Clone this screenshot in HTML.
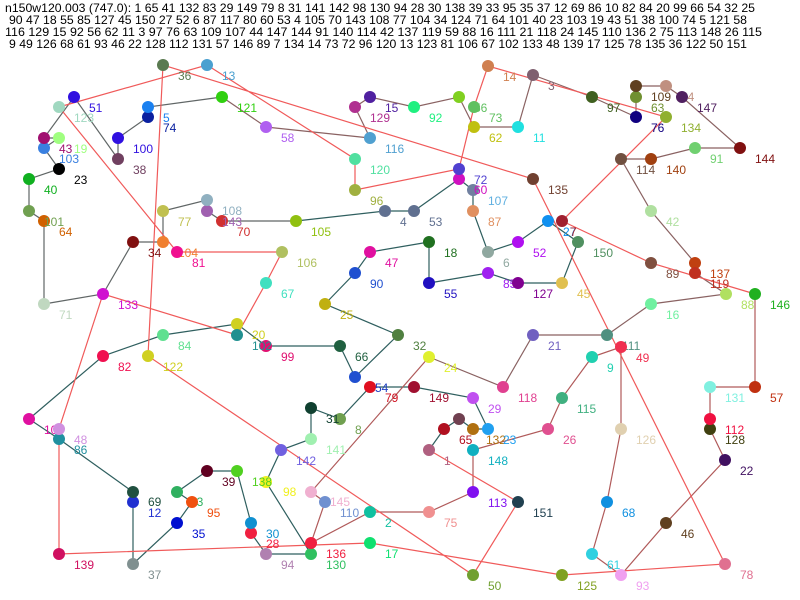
<!DOCTYPE html>
<html><head><meta charset="utf-8"><style>
html,body{margin:0;padding:0;background:#fff}
svg{display:block}
text{font-family:"Liberation Sans",sans-serif;font-size:12px}
</style></head><body>
<svg width="800" height="600" viewBox="0 0 800 600" xmlns="http://www.w3.org/2000/svg">
<rect width="800" height="600" fill="#fff"/>
<g fill="#000">
<text x="5" y="12" textLength="750" lengthAdjust="spacingAndGlyphs">n150w120.003 (747.0): 1 65 41 132 83 29 149 79 8 31 141 142 98 130 94 28 30 138 39 33 95 35 37 12 69 86 10 82 84 20 99 66 54 32 25</text>
<text x="9" y="24" textLength="738" lengthAdjust="spacingAndGlyphs">90 47 18 55 85 127 45 150 27 52 6 87 117 80 60 53 4 105 70 143 108 77 104 34 124 71 64 101 40 23 103 19 43 51 38 100 74 5 121 58</text>
<text x="5" y="36" textLength="757" lengthAdjust="spacingAndGlyphs">116 129 15 92 56 62 11 3 97 76 63 109 107 44 147 144 91 140 114 42 137 119 59 88 16 111 21 118 24 145 110 136 2 75 113 148 26 115</text>
<text x="9" y="48" textLength="738" lengthAdjust="spacingAndGlyphs">9 49 126 68 61 93 46 22 128 112 131 57 146 89 7 134 14 73 72 96 120 13 123 81 106 67 102 133 48 139 17 125 78 135 36 122 50 151</text>
</g>
<g fill="none" stroke-width="1.2">
<polyline stroke="#2f5f5f" points="429,450 444,429 459,419 473,429 488,429 473,398 414,387 370,387 340,419 311,408 311,439 281,450 266,482 311,554 266,554 251,533 251,523 237,471 207,471 177,492 192,502 177,523 133,564 133,502 133,492 59,439 29,419 103,356 163,335 237,324 266,346 340,346 355,377 398,335 325,304 355,273 370,252 429,242 429,283 488,273 518,283 562,283 578,242 548,221 518,242 488,252 473,211 473,190 473,190 459,179 414,211 385,211 296,221"/>
<polyline stroke="#606666" points="296,221 222,221 207,211 207,200 163,211 163,242 133,242 103,294 44,304 44,221 29,211 29,179 59,169 44,148 59,138 44,138 74,97 118,159 118,138 148,117 148,107 222,97"/>
<polyline stroke="#8a6262" points="222,97 266,127 370,138 355,107 370,97 414,107 459,97 474,127 518,127 533,75 592,97 636,117 636,97 636,86 636,86 666,86 682,97 740,148 695,148 651,159 621,159 651,211 695,263 695,273 726,294 726,294 651,304 607,335 533,335 503,387 429,357"/>
<polyline stroke="#b05a5a" points="429,357 311,492 325,502 311,543 370,512 429,512 473,492 473,450 548,429 562,398 592,357 621,347 621,429 607,502 592,554 621,575 666,523 725,460 710,429 710,419 710,387 755,387 755,294"/>
<polyline stroke="#f05a5a" points="755,294 651,263 562,221 666,117 488,66 474,107 459,169 355,190 355,159 207,65 59,107 177,252 282,252 266,283 237,335 103,294 59,429 59,554 370,543 562,575 725,564 533,179 163,65 148,356 473,575 518,502 429,450"/>
</g>
<g>
<circle cx="429" cy="450" r="6" fill="#b06080"/><text x="444" y="465" fill="#b06080">1</text>
<circle cx="444" cy="429" r="6" fill="#b01020"/><text x="459" y="444" fill="#b01020">65</text>
<circle cx="459" cy="419" r="6" fill="#704050"/>
<circle cx="473" cy="429" r="6" fill="#b07010"/><text x="486" y="444" fill="#b07010">132</text>
<circle cx="488" cy="429" r="6" fill="#20a0f0"/><text x="503" y="444" fill="#20a0f0">23</text>
<circle cx="473" cy="398" r="6" fill="#c050f0"/><text x="488" y="413" fill="#c050f0">29</text>
<circle cx="414" cy="387" r="6" fill="#a01030"/><text x="429" y="402" fill="#a01030">149</text>
<circle cx="370" cy="387" r="6" fill="#e01020"/><text x="385" y="402" fill="#d01020">79</text><text x="375" y="392" fill="#2040c0">54</text>
<circle cx="340" cy="419" r="6" fill="#70a050"/><text x="355" y="434" fill="#70a050">8</text>
<circle cx="311" cy="408" r="6" fill="#104030"/><text x="326" y="423" fill="#104030">31</text>
<circle cx="311" cy="439" r="6" fill="#a0f0b0"/><text x="326" y="454" fill="#a0f0b0">141</text>
<circle cx="281" cy="450" r="6" fill="#7060e0"/><text x="296" y="465" fill="#7060e0">142</text>
<circle cx="266" cy="482" r="6" fill="#f0f020"/><text x="283" y="496" fill="#f0f020">98</text>
<circle cx="311" cy="554" r="6" fill="#30c060"/><text x="326" y="569" fill="#30c060">130</text>
<circle cx="266" cy="554" r="6" fill="#b080b0"/><text x="281" y="569" fill="#b080b0">94</text>
<circle cx="251" cy="533" r="6" fill="#f02040"/><text x="266" y="548" fill="#f02040">28</text>
<circle cx="251" cy="523" r="6" fill="#1090d0"/><text x="266" y="538" fill="#1090d0">30</text>
<circle cx="237" cy="471" r="6" fill="#50d020"/><text x="252" y="486" fill="#50d020">138</text>
<circle cx="207" cy="471" r="6" fill="#600020"/><text x="222" y="486" fill="#600020">39</text>
<circle cx="177" cy="492" r="6" fill="#30b060"/><text x="190" y="506" fill="#30b060">33</text>
<circle cx="192" cy="502" r="6" fill="#f05010"/><text x="207" y="517" fill="#f05010">95</text>
<circle cx="177" cy="523" r="6" fill="#0010d0"/><text x="192" y="538" fill="#0010d0">35</text>
<circle cx="133" cy="564" r="6" fill="#809090"/><text x="148" y="579" fill="#809090">37</text>
<circle cx="133" cy="502" r="6" fill="#2030d0"/><text x="148" y="517" fill="#2030d0">12</text>
<circle cx="133" cy="492" r="6" fill="#205040"/><text x="148" y="506" fill="#205040">69</text>
<circle cx="59" cy="439" r="6" fill="#2090a0"/><text x="74" y="454" fill="#2090a0">86</text>
<circle cx="29" cy="419" r="6" fill="#e010a0"/><text x="44" y="434" fill="#e010a0">10</text>
<circle cx="103" cy="356" r="6" fill="#f01050"/><text x="118" y="371" fill="#f01050">82</text>
<circle cx="163" cy="335" r="6" fill="#60e090"/><text x="178" y="350" fill="#60e090">84</text>
<circle cx="237" cy="324" r="6" fill="#d0d020"/><text x="252" y="339" fill="#d0d020">20</text>
<circle cx="266" cy="346" r="6" fill="#e01070"/><text x="281" y="361" fill="#e01070">99</text>
<circle cx="340" cy="346" r="6" fill="#206040"/><text x="355" y="361" fill="#206040">66</text>
<circle cx="355" cy="377" r="6" fill="#2050d0"/>
<circle cx="398" cy="335" r="6" fill="#508040"/><text x="413" y="350" fill="#508040">32</text>
<circle cx="325" cy="304" r="6" fill="#c0b010"/><text x="340" y="319" fill="#c0b010">25</text>
<circle cx="355" cy="273" r="6" fill="#2050d0"/><text x="370" y="288" fill="#2050d0">90</text>
<circle cx="370" cy="252" r="6" fill="#e010a0"/><text x="385" y="267" fill="#e010a0">47</text>
<circle cx="429" cy="242" r="6" fill="#207020"/><text x="444" y="257" fill="#207020">18</text>
<circle cx="429" cy="283" r="6" fill="#2010c0"/><text x="444" y="298" fill="#2010c0">55</text>
<circle cx="488" cy="273" r="6" fill="#a020f0"/><text x="503" y="288" fill="#a020f0">85</text>
<circle cx="518" cy="283" r="6" fill="#800090"/><text x="533" y="298" fill="#800090">127</text>
<circle cx="562" cy="283" r="6" fill="#e0c050"/><text x="577" y="298" fill="#e0c050">45</text>
<circle cx="578" cy="242" r="6" fill="#509060"/><text x="593" y="257" fill="#509060">150</text>
<circle cx="548" cy="221" r="6" fill="#1090f0"/><text x="563" y="236" fill="#1090f0">27</text>
<circle cx="518" cy="242" r="6" fill="#b010f0"/><text x="533" y="257" fill="#b010f0">52</text>
<circle cx="488" cy="252" r="6" fill="#90a8a0"/><text x="503" y="267" fill="#90a8a0">6</text>
<circle cx="473" cy="211" r="6" fill="#e09060"/><text x="488" y="226" fill="#e09060">87</text>
<circle cx="473" cy="190" r="6" fill="#7080a0"/><text x="488" y="205" fill="#60b0e0">107</text>
<circle cx="459" cy="179" r="6" fill="#d010c0"/><text x="474" y="194" fill="#d010c0">60</text>
<circle cx="414" cy="211" r="6" fill="#607090"/><text x="429" y="226" fill="#607090">53</text>
<circle cx="385" cy="211" r="6" fill="#607090"/><text x="400" y="226" fill="#607090">4</text>
<circle cx="296" cy="221" r="6" fill="#90c010"/><text x="311" y="236" fill="#90c010">105</text>
<circle cx="222" cy="221" r="6" fill="#d03030"/><text x="237" y="236" fill="#d03030">70</text>
<circle cx="207" cy="211" r="6" fill="#a060b0"/><text x="222" y="226" fill="#a060b0">143</text>
<circle cx="207" cy="200" r="6" fill="#90b0c0"/><text x="222" y="215" fill="#90b0c0">108</text>
<circle cx="163" cy="211" r="6" fill="#c0c050"/><text x="178" y="226" fill="#c0c050">77</text>
<circle cx="163" cy="242" r="6" fill="#f08030"/><text x="178" y="257" fill="#f08030">104</text>
<circle cx="133" cy="242" r="6" fill="#801010"/><text x="148" y="257" fill="#801010">34</text>
<circle cx="103" cy="294" r="6" fill="#d010d0"/><text x="118" y="309" fill="#d010d0">133</text>
<circle cx="44" cy="304" r="6" fill="#c0d8c0"/><text x="59" y="319" fill="#c0d8c0">71</text>
<circle cx="44" cy="221" r="6" fill="#d06000"/><text x="59" y="236" fill="#d06000">64</text>
<circle cx="29" cy="211" r="6" fill="#70a050"/><text x="44" y="226" fill="#70a050">101</text>
<circle cx="29" cy="179" r="6" fill="#10b020"/><text x="44" y="194" fill="#10b020">40</text>
<circle cx="59" cy="169" r="6" fill="#000"/><text x="74" y="184" fill="#000">23</text>
<circle cx="44" cy="148" r="6" fill="#3a80e0"/><text x="59" y="163" fill="#3a80e0">103</text>
<circle cx="59" cy="138" r="6" fill="#a0ff80"/><text x="74" y="153" fill="#a0ff80">19</text>
<circle cx="44" cy="138" r="6" fill="#a01070"/><text x="59" y="153" fill="#a01070">43</text>
<circle cx="74" cy="97" r="6" fill="#3010e0"/><text x="89" y="112" fill="#3010e0">51</text>
<circle cx="118" cy="159" r="6" fill="#704060"/><text x="133" y="174" fill="#704060">38</text>
<circle cx="118" cy="138" r="6" fill="#3010e0"/><text x="133" y="153" fill="#3010e0">100</text>
<circle cx="148" cy="117" r="6" fill="#0a20a0"/><text x="163" y="132" fill="#0a20a0">74</text>
<circle cx="148" cy="107" r="6" fill="#1a80f0"/><text x="163" y="122" fill="#1a80f0">5</text>
<circle cx="222" cy="97" r="6" fill="#30d010"/><text x="237" y="112" fill="#30d010">121</text>
<circle cx="266" cy="127" r="6" fill="#b060f0"/><text x="281" y="142" fill="#b060f0">58</text>
<circle cx="370" cy="138" r="6" fill="#50a0d0"/><text x="385" y="153" fill="#50a0d0">116</text>
<circle cx="355" cy="107" r="6" fill="#b03090"/><text x="370" y="122" fill="#b03090">129</text>
<circle cx="370" cy="97" r="6" fill="#5020a0"/><text x="385" y="112" fill="#5020a0">15</text>
<circle cx="414" cy="107" r="6" fill="#20f080"/><text x="429" y="122" fill="#20f080">92</text>
<circle cx="459" cy="97" r="6" fill="#80d020"/>
<circle cx="474" cy="107" r="6" fill="#60c060"/><text x="474" y="112" fill="#60c060">56</text><text x="489" y="122" fill="#60c060">73</text>
<circle cx="474" cy="127" r="6" fill="#c0c010"/><text x="489" y="142" fill="#c0c010">62</text>
<circle cx="518" cy="127" r="6" fill="#20e0e0"/><text x="533" y="142" fill="#20e0e0">11</text>
<circle cx="533" cy="75" r="6" fill="#806070"/><text x="548" y="90" fill="#806070">3</text>
<circle cx="592" cy="97" r="6" fill="#406020"/><text x="607" y="112" fill="#406020">97</text>
<circle cx="636" cy="117" r="6" fill="#100080"/><text x="651" y="132" fill="#100080">76</text>
<circle cx="636" cy="97" r="6" fill="#709030"/><text x="651" y="112" fill="#709030">63</text>
<circle cx="636" cy="86" r="6" fill="#604020"/><text x="651" y="101" fill="#604020">109</text>
<circle cx="666" cy="86" r="6" fill="#c09080"/><text x="681" y="101" fill="#c09080">44</text>
<circle cx="682" cy="97" r="6" fill="#502060"/><text x="697" y="112" fill="#502060">147</text>
<circle cx="740" cy="148" r="6" fill="#801010"/><text x="755" y="163" fill="#801010">144</text>
<circle cx="695" cy="148" r="6" fill="#70d070"/><text x="710" y="163" fill="#70d070">91</text>
<circle cx="651" cy="159" r="6" fill="#a04010"/><text x="666" y="174" fill="#a04010">140</text>
<circle cx="621" cy="159" r="6" fill="#705040"/><text x="636" y="174" fill="#705040">114</text>
<circle cx="651" cy="211" r="6" fill="#b0e0a0"/><text x="666" y="226" fill="#b0e0a0">42</text>
<circle cx="695" cy="263" r="6" fill="#c04010"/><text x="710" y="278" fill="#c04010">137</text>
<circle cx="695" cy="273" r="6" fill="#c03020"/><text x="710" y="288" fill="#c03020">119</text>
<circle cx="726" cy="294" r="6" fill="#b0e060"/><text x="741" y="309" fill="#b0e060">88</text>
<circle cx="651" cy="304" r="6" fill="#70f0a0"/><text x="666" y="319" fill="#70f0a0">16</text>
<circle cx="607" cy="335" r="6" fill="#509080"/><text x="622" y="350" fill="#509080">111</text>
<circle cx="533" cy="335" r="6" fill="#7060c0"/><text x="548" y="350" fill="#7060c0">21</text>
<circle cx="503" cy="387" r="6" fill="#e04090"/><text x="518" y="402" fill="#e04090">118</text>
<circle cx="429" cy="357" r="6" fill="#e0f030"/><text x="444" y="372" fill="#e0f030">24</text>
<circle cx="311" cy="492" r="6" fill="#f0b0d0"/><text x="330" y="506" fill="#f0b0d0">145</text>
<circle cx="325" cy="502" r="6" fill="#7090d0"/><text x="340" y="517" fill="#7090d0">110</text>
<circle cx="311" cy="543" r="6" fill="#f02040"/><text x="326" y="558" fill="#f02040">136</text>
<circle cx="370" cy="512" r="6" fill="#10c0a0"/><text x="385" y="527" fill="#10c0a0">2</text>
<circle cx="429" cy="512" r="6" fill="#f09090"/><text x="444" y="527" fill="#f09090">75</text>
<circle cx="473" cy="492" r="6" fill="#8010f0"/><text x="488" y="507" fill="#8010f0">113</text>
<circle cx="473" cy="450" r="6" fill="#10b0c0"/><text x="488" y="465" fill="#10b0c0">148</text>
<circle cx="548" cy="429" r="6" fill="#e05090"/><text x="563" y="444" fill="#e05090">26</text>
<circle cx="562" cy="398" r="6" fill="#40b080"/><text x="577" y="413" fill="#40b080">115</text>
<circle cx="592" cy="357" r="6" fill="#20d0b0"/><text x="607" y="372" fill="#20d0b0">9</text>
<circle cx="621" cy="347" r="6" fill="#f03050"/><text x="636" y="362" fill="#f03050">49</text>
<circle cx="621" cy="429" r="6" fill="#e0d0b0"/><text x="636" y="444" fill="#e0d0b0">126</text>
<circle cx="607" cy="502" r="6" fill="#1090e0"/><text x="622" y="517" fill="#1090e0">68</text>
<circle cx="592" cy="554" r="6" fill="#30d0e0"/><text x="607" y="569" fill="#30d0e0">61</text>
<circle cx="621" cy="575" r="6" fill="#f0a0f0"/><text x="636" y="590" fill="#f0a0f0">93</text>
<circle cx="666" cy="523" r="6" fill="#604020"/><text x="681" y="538" fill="#604020">46</text>
<circle cx="725" cy="460" r="6" fill="#401060"/><text x="740" y="475" fill="#401060">22</text>
<circle cx="710" cy="429" r="6" fill="#404010"/><text x="725" y="444" fill="#404010">128</text>
<circle cx="710" cy="419" r="6" fill="#f01040"/><text x="725" y="434" fill="#f01040">112</text>
<circle cx="710" cy="387" r="6" fill="#80f0e0"/><text x="725" y="402" fill="#80f0e0">131</text>
<circle cx="755" cy="387" r="6" fill="#c03010"/><text x="770" y="402" fill="#c03010">57</text>
<circle cx="755" cy="294" r="6" fill="#20b020"/><text x="770" y="309" fill="#20b020">146</text>
<circle cx="651" cy="263" r="6" fill="#805040"/><text x="666" y="278" fill="#805040">89</text>
<circle cx="562" cy="221" r="6" fill="#a02030"/><text x="570" y="236" fill="#a02030">7</text>
<circle cx="666" cy="117" r="6" fill="#90b030"/><text x="681" y="132" fill="#90b030">134</text>
<circle cx="488" cy="66" r="6" fill="#d08050"/><text x="503" y="81" fill="#d08050">14</text>
<circle cx="459" cy="169" r="6" fill="#5040d0"/><text x="474" y="184" fill="#5040d0">72</text>
<circle cx="355" cy="190" r="6" fill="#a0b040"/><text x="370" y="205" fill="#a0b040">96</text>
<circle cx="355" cy="159" r="6" fill="#50e0a0"/><text x="370" y="174" fill="#50e0a0">120</text>
<circle cx="207" cy="65" r="6" fill="#4aa0d0"/><text x="222" y="80" fill="#4aa0d0">13</text>
<circle cx="59" cy="107" r="6" fill="#a0d8c0"/><text x="74" y="122" fill="#a0d8c0">123</text>
<circle cx="177" cy="252" r="6" fill="#f01090"/><text x="192" y="267" fill="#f01090">81</text>
<circle cx="282" cy="252" r="6" fill="#b0c060"/><text x="297" y="267" fill="#b0c060">106</text>
<circle cx="266" cy="283" r="6" fill="#40e0c0"/><text x="281" y="298" fill="#40e0c0">67</text>
<circle cx="237" cy="335" r="6" fill="#209090"/><text x="252" y="350" fill="#209090">102</text>
<circle cx="59" cy="429" r="6" fill="#d090e0"/><text x="74" y="444" fill="#d090e0">48</text>
<circle cx="59" cy="554" r="6" fill="#d01060"/><text x="74" y="569" fill="#d01060">139</text>
<circle cx="370" cy="543" r="6" fill="#10e070"/><text x="385" y="558" fill="#10e070">17</text>
<circle cx="562" cy="575" r="6" fill="#80a020"/><text x="577" y="590" fill="#80a020">125</text>
<circle cx="725" cy="564" r="6" fill="#e07090"/><text x="740" y="579" fill="#e07090">78</text>
<circle cx="533" cy="179" r="6" fill="#704030"/><text x="548" y="194" fill="#704030">135</text>
<circle cx="163" cy="65" r="6" fill="#5a7a50"/><text x="178" y="80" fill="#5a7a50">36</text>
<circle cx="148" cy="356" r="6" fill="#d0d020"/><text x="163" y="371" fill="#d0d020">122</text>
<circle cx="473" cy="575" r="6" fill="#70a030"/><text x="488" y="590" fill="#70a030">50</text>
<circle cx="518" cy="502" r="6" fill="#204050"/><text x="533" y="517" fill="#204050">151</text>
</g>
</svg>
</body></html>
